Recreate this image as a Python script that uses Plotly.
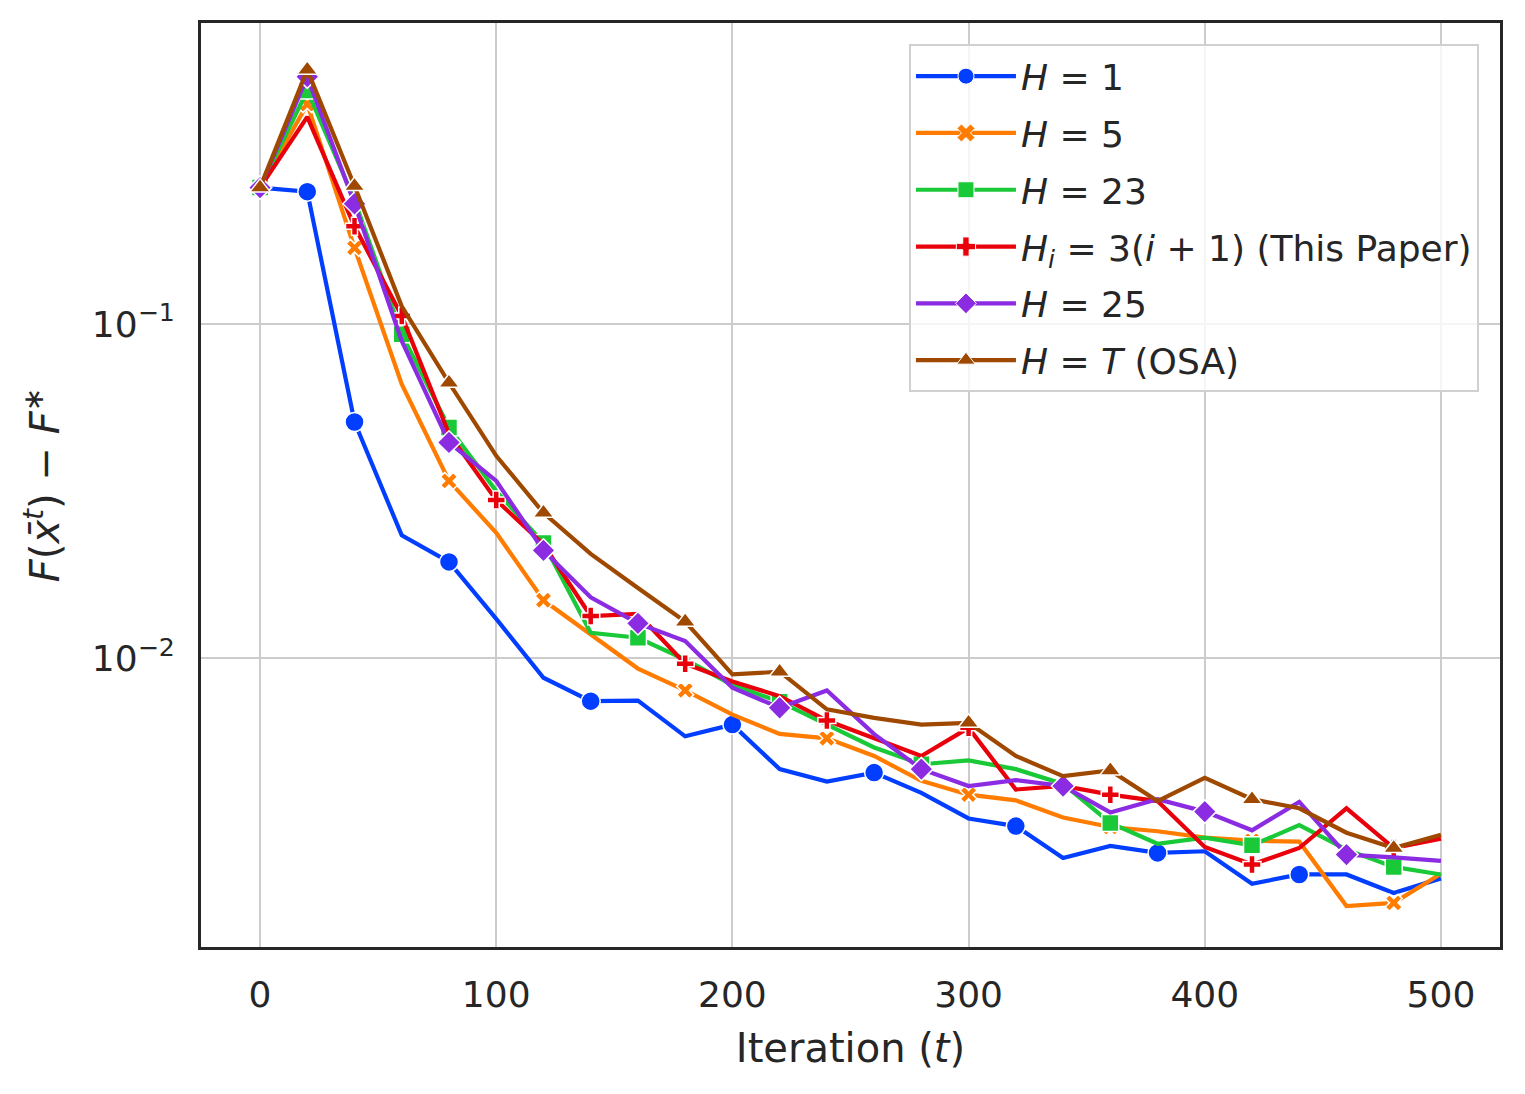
import plotly.graph_objects as go

# ---- data ----
iterations = list(range(0, 501, 20))

h1 = [0.256, 0.249, 0.0509, 0.0233, 0.0194, 0.0131, 0.00873, 0.00743, 0.00746, 0.00583,
      0.00632, 0.00465, 0.00427, 0.00454, 0.00395, 0.00331, 0.00314, 0.00252, 0.00274, 0.00261,
      0.00264, 0.00211, 0.00225, 0.00225, 0.00198, 0.00219]
h5 = [0.256, 0.455, 0.169, 0.066, 0.0339, 0.0237, 0.0149, 0.0118, 0.0093, 0.0080,
      0.00677, 0.00593, 0.00575, 0.00509, 0.00429, 0.0039, 0.00375, 0.00333, 0.00312, 0.00303,
      0.0029, 0.00284, 0.00282, 0.00181, 0.00185, 0.00226]
h23 = [0.256, 0.50, 0.235, 0.0932, 0.049, 0.0316, 0.0221, 0.0119, 0.0115, 0.0099,
       0.0083, 0.0074, 0.00632, 0.0054, 0.00481, 0.00494, 0.00465, 0.0042, 0.00321, 0.00278,
       0.0029, 0.00275, 0.00316, 0.00267, 0.00237, 0.00225]
h_paper = [0.256, 0.417, 0.196, 0.1057, 0.0469, 0.0297, 0.0219, 0.01336, 0.01355, 0.00962,
           0.00851, 0.00769, 0.0065, 0.00577, 0.00509, 0.00618, 0.00404, 0.00414, 0.0039, 0.00373,
           0.00272, 0.00241, 0.0027, 0.00355, 0.0027, 0.00288]
h25 = [0.256, 0.55, 0.229, 0.089, 0.0442, 0.0339, 0.0210, 0.0152, 0.0127, 0.01125,
       0.00815, 0.0071, 0.0080, 0.00592, 0.00465, 0.00414, 0.00431, 0.00414, 0.00345, 0.00378,
       0.00347, 0.00305, 0.00371, 0.00258, 0.00253, 0.00247]
h_osa = [0.256, 0.577, 0.259, 0.113, 0.0667, 0.0403, 0.0272, 0.0205, 0.0162, 0.01285,
         0.00893, 0.0091, 0.00702, 0.00662, 0.00632, 0.0064, 0.00509, 0.00443, 0.00461, 0.00373,
         0.00438, 0.00378, 0.00355, 0.0030, 0.0027, 0.00296]

labels = [
    "<i>H</i> = 1",
    "<i>H</i> = 5",
    "<i>H</i> = 23",
    "<i>H<sub>i</sub></i> = 3(<i>i</i> + 1) (This Paper)",
    "<i>H</i> = 25",
    "<i>H</i> = <i>T</i> (OSA)",
]
series = [h1, h5, h23, h_paper, h25, h_osa]

# ---- style ----
colors = ["#023eff", "#ff7c00", "#1ac938", "#e8000b", "#8b2be2", "#9f4800"]
symbols = ["circle", "x", "square", "cross", "diamond", "triangle-up"]
msizes = [19, 15, 17, 15, 18, 18]
# which points carry a marker (like matplotlib markevery)
marker_idx = [
    [0, 1, 2, 4, 7, 10, 13, 16, 19, 22],
    [0, 1, 2, 4, 6, 9, 12, 15, 18, 21, 24],
    [0, 1, 3, 4, 6, 8, 11, 14, 18, 21, 24],
    [0, 2, 3, 5, 7, 9, 12, 15, 18, 21, 24],
    [0, 1, 2, 4, 6, 8, 11, 14, 17, 20, 23],
    [0, 1, 2, 4, 6, 9, 11, 15, 18, 21, 24],
]

TXT = "#262626"
FONT = "DejaVu Sans"

fig = go.Figure()
for k, (lab, vals) in enumerate(zip(labels, series)):
    grp = f"g{k}"
    fig.add_trace(go.Scatter(
        x=iterations, y=vals, mode="lines",
        line=dict(color=colors[k], width=4.2),
        legendgroup=grp, showlegend=False, hoverinfo="skip",
    ))
    idx = marker_idx[k]
    fig.add_trace(go.Scatter(
        x=[iterations[i] for i in idx], y=[vals[i] for i in idx], mode="markers",
        marker=dict(symbol=symbols[k], size=msizes[k], color=colors[k],
                    line=dict(color="white", width=1.5)),
        legendgroup=grp, showlegend=False,
    ))
    fig.add_trace(go.Scatter(
        x=[None], y=[None], mode="lines+markers", name=lab,
        line=dict(color=colors[k], width=4.2),
        marker=dict(symbol=symbols[k], size=16, color=colors[k],
                    line=dict(color="white", width=1)),
        legendgroup=grp, showlegend=True,
    ))

fig.update_layout(
    width=1525, height=1094,
    margin=dict(l=193, r=33, t=15, b=155),
    paper_bgcolor="white", plot_bgcolor="white",
    font=dict(family=FONT, color=TXT, size=36),
    legend=dict(
        x=0.545, y=0.977, xanchor="left", yanchor="top",
        bgcolor="rgba(255,255,255,0.8)", bordercolor="#d0d0d0", borderwidth=2,
        font=dict(size=36, family=FONT, color=TXT),
        tracegroupgap=7, itemwidth=100,
    ),
    showlegend=True,
)

fig.update_xaxes(
    range=[-25, 525], tickvals=[0, 100, 200, 300, 400, 500],
    showgrid=True, gridcolor="#cccccc", gridwidth=2.2, zeroline=False,
    showline=True, linecolor=TXT, linewidth=3, mirror=True,
    ticks="", ticklabelstandoff=14,
    tickfont=dict(size=36, family=FONT, color=TXT),
    title=dict(text="Iteration (<i>t</i>)", font=dict(size=40, family=FONT, color=TXT), standoff=20),
)
fig.update_yaxes(
    type="log", range=[-2.865, -0.099],
    tickvals=[0.01, 0.1], ticktext=["10<sup>−2</sup>", "10<sup>−1</sup>"],
    showgrid=True, gridcolor="#cccccc", gridwidth=2.2, zeroline=False,
    minor=dict(showgrid=False, ticks=""),
    showline=True, linecolor=TXT, linewidth=3, mirror=True,
    ticks="", ticklabelstandoff=16,
    tickfont=dict(size=36, family=FONT, color=TXT),
    title=dict(text="<i>F</i>(<i>x̄</i><sup><i>t</i></sup>) − <i>F</i><sup>∗</sup>",
               font=dict(size=40, family=FONT, color=TXT), standoff=20),
)

fig.write_html("out.html")
